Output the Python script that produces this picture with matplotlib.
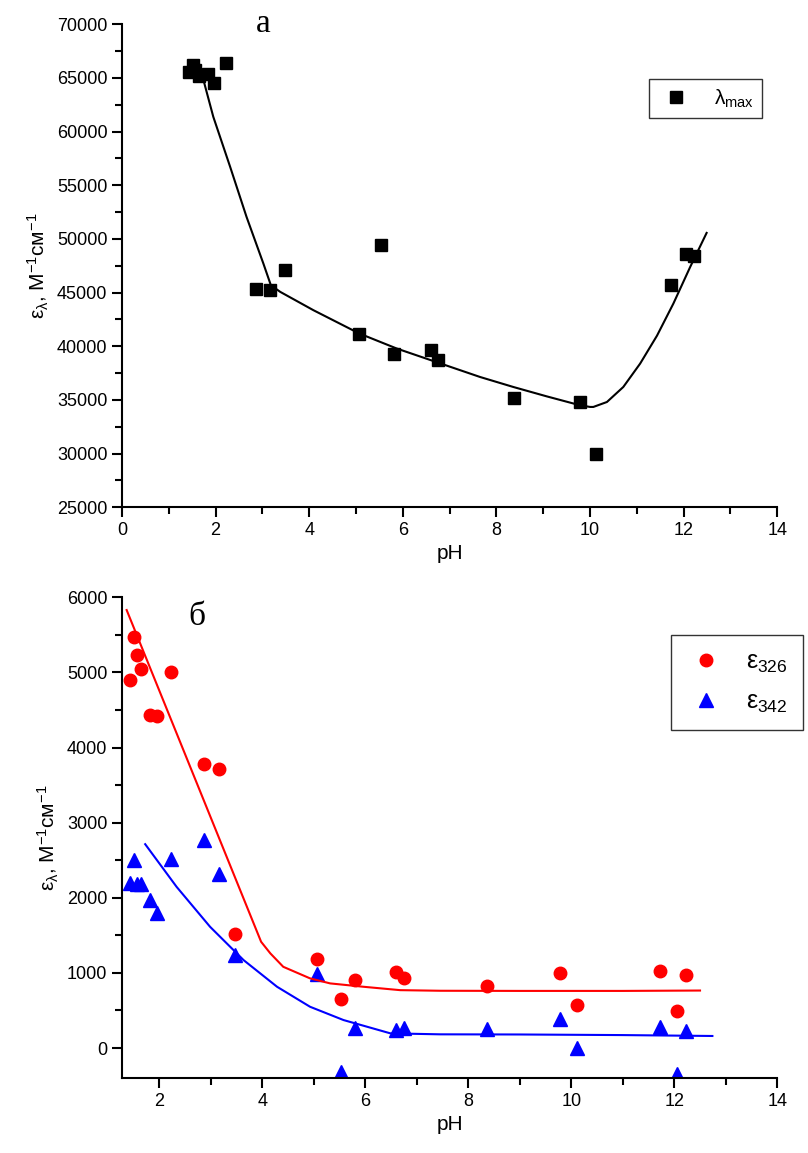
import matplotlib
matplotlib.use('Agg')
import matplotlib.pyplot as plt
import numpy as np
from matplotlib.ticker import MultipleLocator

plt.rcParams['font.family'] = ['Liberation Sans', 'DejaVu Sans']
plt.rcParams['mathtext.fontset'] = 'custom'
plt.rcParams['mathtext.rm'] = 'Liberation Sans'
plt.rcParams['mathtext.it'] = 'Liberation Sans'

# data
ph = [1.44, 1.51, 1.57, 1.65, 1.83, 1.96, 2.23, 2.87, 3.17, 3.48, 5.07,
      5.53, 5.81, 6.60, 6.76, 8.37, 9.79, 10.12, 11.73, 12.06, 12.23]
lam_max = [65540, 66200, 65700, 65170, 65350, 64500, 66400, 45300, 45250, 47100, 41150,
           49400, 39300, 39650, 38700, 35150, 34850, 29950, 45750, 48550, 48400]
eps326 = [4900, 5470, 5230, 5040, 4430, 4420, 5000, 3780, 3720, 1520, 1180,
          650, 910, 1010, 930, 830, 1000, 570, 1030, 490, 970]
eps342 = [2200, 2500, 2180, 2180, 1970, 1800, 2510, 2770, 2320, 1240, 990,
          -320, 270, 240, 270, 250, 390, 0, 280, -350, 230]

# fitted curves
fit_lam_x = [1.75, 1.95, 2.31, 2.66, 3.02, 3.18, 3.38, 4.09, 5.07, 5.87, 6.77, 7.65,
             8.36, 9.07, 9.79, 10.0, 10.07, 10.36, 10.71, 11.07, 11.43, 11.78, 12.14, 12.49]
fit_lam_y = [64640, 61380, 56720, 52060, 47710, 45690, 45070, 43360, 41190, 39790, 38450, 37140,
             36210, 35340, 34500, 34350, 34350, 34810, 36210, 38390, 40990, 43980, 47400, 50560]
fit326_x = [1.37, 3.98, 4.16, 4.41, 4.93, 5.32, 5.97, 6.68, 7.46, 9.0, 11.0, 12.5]
fit326_y = [5830, 1414, 1259, 1081, 927, 860, 815, 770, 762, 760, 760, 765]
fit342_x = [1.73, 2.34, 2.99, 3.64, 4.29, 4.93, 5.58, 6.49, 7.46, 9.0, 11.0, 12.74]
fit342_y = [2713, 2145, 1613, 1170, 815, 549, 372, 195, 182, 180, 172, 160]

fig = plt.figure(figsize=(8.08, 11.53), dpi=100)
ax1 = fig.add_axes([0.151, 0.560, 0.811, 0.419])
ax2 = fig.add_axes([0.151, 0.065, 0.811, 0.417])

for ax in (ax1, ax2):
    ax.spines['top'].set_visible(False)
    ax.spines['right'].set_visible(False)
    ax.spines['left'].set_linewidth(1.5)
    ax.spines['bottom'].set_linewidth(1.5)
    ax.tick_params(which='major', direction='out', length=7, width=1.5, labelsize=13)
    ax.tick_params(which='minor', direction='out', length=5, width=1.5)
    ax.xaxis.set_major_locator(MultipleLocator(2))
    ax.xaxis.set_minor_locator(MultipleLocator(1))
    ax.set_xlabel('pH', fontsize=15)
    ax.set_ylabel(r'$\varepsilon_{\lambda}$, M$^{-1}$см$^{-1}$', fontsize=15)

# верхний график
ax1.plot(ph, lam_max, 's', color='black', markersize=8, label=r'$\lambda_{max}$')
ax1.plot(fit_lam_x, fit_lam_y, '-', color='black', linewidth=1.5)
ax1.set_xlim(0, 14)
ax1.set_ylim(25000, 70000)
ax1.yaxis.set_major_locator(MultipleLocator(5000))
ax1.yaxis.set_minor_locator(MultipleLocator(2500))
ax1.text(0.215, 1.0, 'а', transform=ax1.transAxes, fontsize=24, family='Liberation Serif',
         ha='center', va='center')
ax1.legend(loc='upper right', bbox_to_anchor=(762 / 808, 1 - 79 / 1153), bbox_transform=fig.transFigure,
           fontsize=15, frameon=True, fancybox=False, edgecolor='black', handletextpad=0.9,
           handlelength=1.8, borderpad=0.4, borderaxespad=0).get_frame().set_linewidth(1.0)

# нижний график
ax2.plot(ph, eps326, 'o', color='red', markersize=9, label=r'$\varepsilon_{326}$')
ax2.plot(ph, eps342, '^', color='blue', markersize=10, label=r'$\varepsilon_{342}$')
ax2.plot(fit326_x, fit326_y, '-', color='red', linewidth=1.5)
ax2.plot(fit342_x, fit342_y, '-', color='blue', linewidth=1.5)
ax2.set_xlim(1.28, 14)
ax2.set_ylim(-400, 6000)
ax2.yaxis.set_major_locator(MultipleLocator(1000))
ax2.yaxis.set_minor_locator(MultipleLocator(500))
ax2.text(0.115, 0.96, 'б', transform=ax2.transAxes, fontsize=24, family='Liberation Serif',
         ha='center', va='center')
ax2.legend(loc='upper right', bbox_to_anchor=(803 / 808, 1 - 635 / 1153), bbox_transform=fig.transFigure,
           fontsize=18, frameon=True, fancybox=False, edgecolor='black', handletextpad=0.8,
           handlelength=1.6, borderpad=0.6, labelspacing=0.6, borderaxespad=0).get_frame().set_linewidth(1.0)

fig.savefig('out.png', dpi=100)
